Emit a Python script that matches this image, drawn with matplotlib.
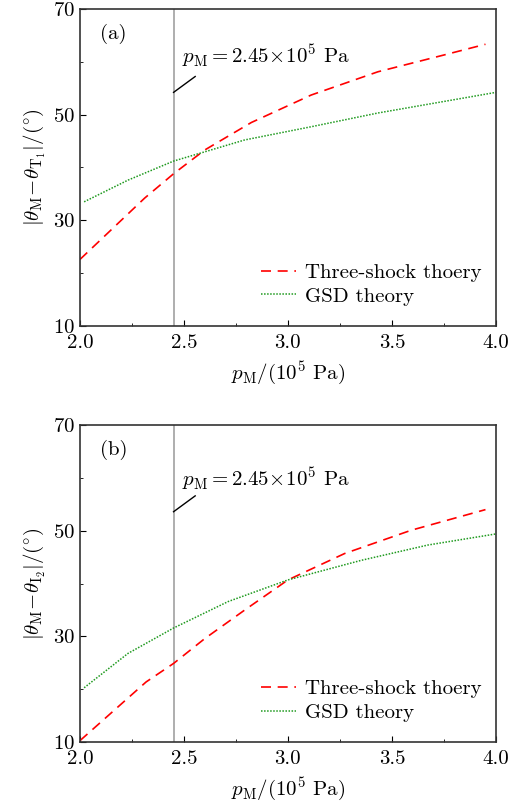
import matplotlib
matplotlib.use("Agg")
import matplotlib.pyplot as plt
from matplotlib.ticker import MultipleLocator

plt.rcParams['font.family'] = 'cmr10'
plt.rcParams['mathtext.fontset'] = 'cm'
plt.rcParams['axes.formatter.use_mathtext'] = True
plt.rcParams['font.size'] = 15

# values
p_three_a = [2.0, 2.311, 2.45, 2.6, 2.824, 3.112, 3.433, 3.753, 3.95]
a_three = [22.6, 34.2, 38.8, 43.3, 48.5, 53.7, 58.1, 61.3, 63.3]
p_gsd_a = [2.02, 2.231, 2.45, 2.792, 3.112, 3.433, 3.753, 4.0]
a_gsd = [33.5, 37.6, 41.2, 45.2, 47.7, 50.3, 52.5, 54.2]

p_three_b = [2.0, 2.318, 2.45, 2.6, 2.792, 3.0, 3.273, 3.593, 3.95]
b_three = [10.3, 21.4, 24.9, 29.6, 35.0, 40.7, 45.7, 50.1, 54.0]
p_gsd_b = [2.02, 2.231, 2.45, 2.712, 3.0, 3.352, 3.673, 4.0]
b_gsd = [20.3, 26.8, 31.6, 36.6, 40.7, 44.4, 47.3, 49.4]

p_mark = 2.45
panels = ["(a)", "(b)"]
ylabels = [r"$|\theta_{\mathrm{M}}\!-\!\theta_{\mathrm{T}_1}|/(^{\circ})$",
           r"$|\theta_{\mathrm{M}}\!-\!\theta_{\mathrm{I}_2}|/(^{\circ})$"]

fig = plt.figure(figsize=(5.16, 8.05), dpi=100)
ax1 = fig.add_axes([0.155, 0.595, 0.806, 0.394])
ax2 = fig.add_axes([0.155, 0.078, 0.806, 0.394])

data = [(ax1, p_three_a, a_three, p_gsd_a, a_gsd, (54.2, 57.2), 61.0),
        (ax2, p_three_b, b_three, p_gsd_b, b_gsd, (53.6, 56.6), 59.8)]

for i, (ax, px3, three, pxg, gsd, seg, ytxt) in enumerate(data):
    ax.axvline(p_mark, color='0.6', lw=1.1)
    ax.plot(px3, three, color='red', ls=(0, (6, 4)), lw=1.2, label='Three-shock thoery')
    ax.plot(pxg, gsd, color='#1f9a1f', ls=(0, (1, 1)), lw=1.1, label='GSD theory')
    ax.plot([p_mark, 2.554], list(seg), color='black', lw=1.0)
    ax.text(2.49, ytxt, r"$p_{\mathrm{M}}=2.45\!\times\!10^5$ Pa", va='center', ha='left')
    ax.text(0.048, 0.92, panels[i], transform=ax.transAxes, va='center', ha='left')
    ax.set_xlim(2.0, 4.0)
    ax.set_ylim(10, 70)
    ax.xaxis.set_major_locator(MultipleLocator(0.5))
    ax.xaxis.set_minor_locator(MultipleLocator(0.25))
    ax.set_yticks([10, 30, 50, 70])
    ax.set_yticks([20, 40, 60], minor=True)
    ax.xaxis.set_major_formatter(plt.FormatStrFormatter('%.1f'))
    ax.tick_params(which='both', direction='in', top=False, right=False)
    ax.tick_params(which='major', length=4)
    ax.tick_params(which='minor', length=2.5)
    ax.tick_params(axis='x', pad=6)
    for s in ax.spines.values():
        s.set_linewidth(1.2)
        s.set_color('0.2')
    ax.set_xlabel(r"$p_{\mathrm{M}}/(10^5$ Pa)", labelpad=5)
    ax.set_ylabel(ylabels[i], labelpad=4)
    ax.legend(loc='lower right', frameon=False, handlelength=1.7, handletextpad=0.45,
              labelspacing=0.25, bbox_to_anchor=(1.012, 0.005))

fig.savefig("out.png", dpi=100)
